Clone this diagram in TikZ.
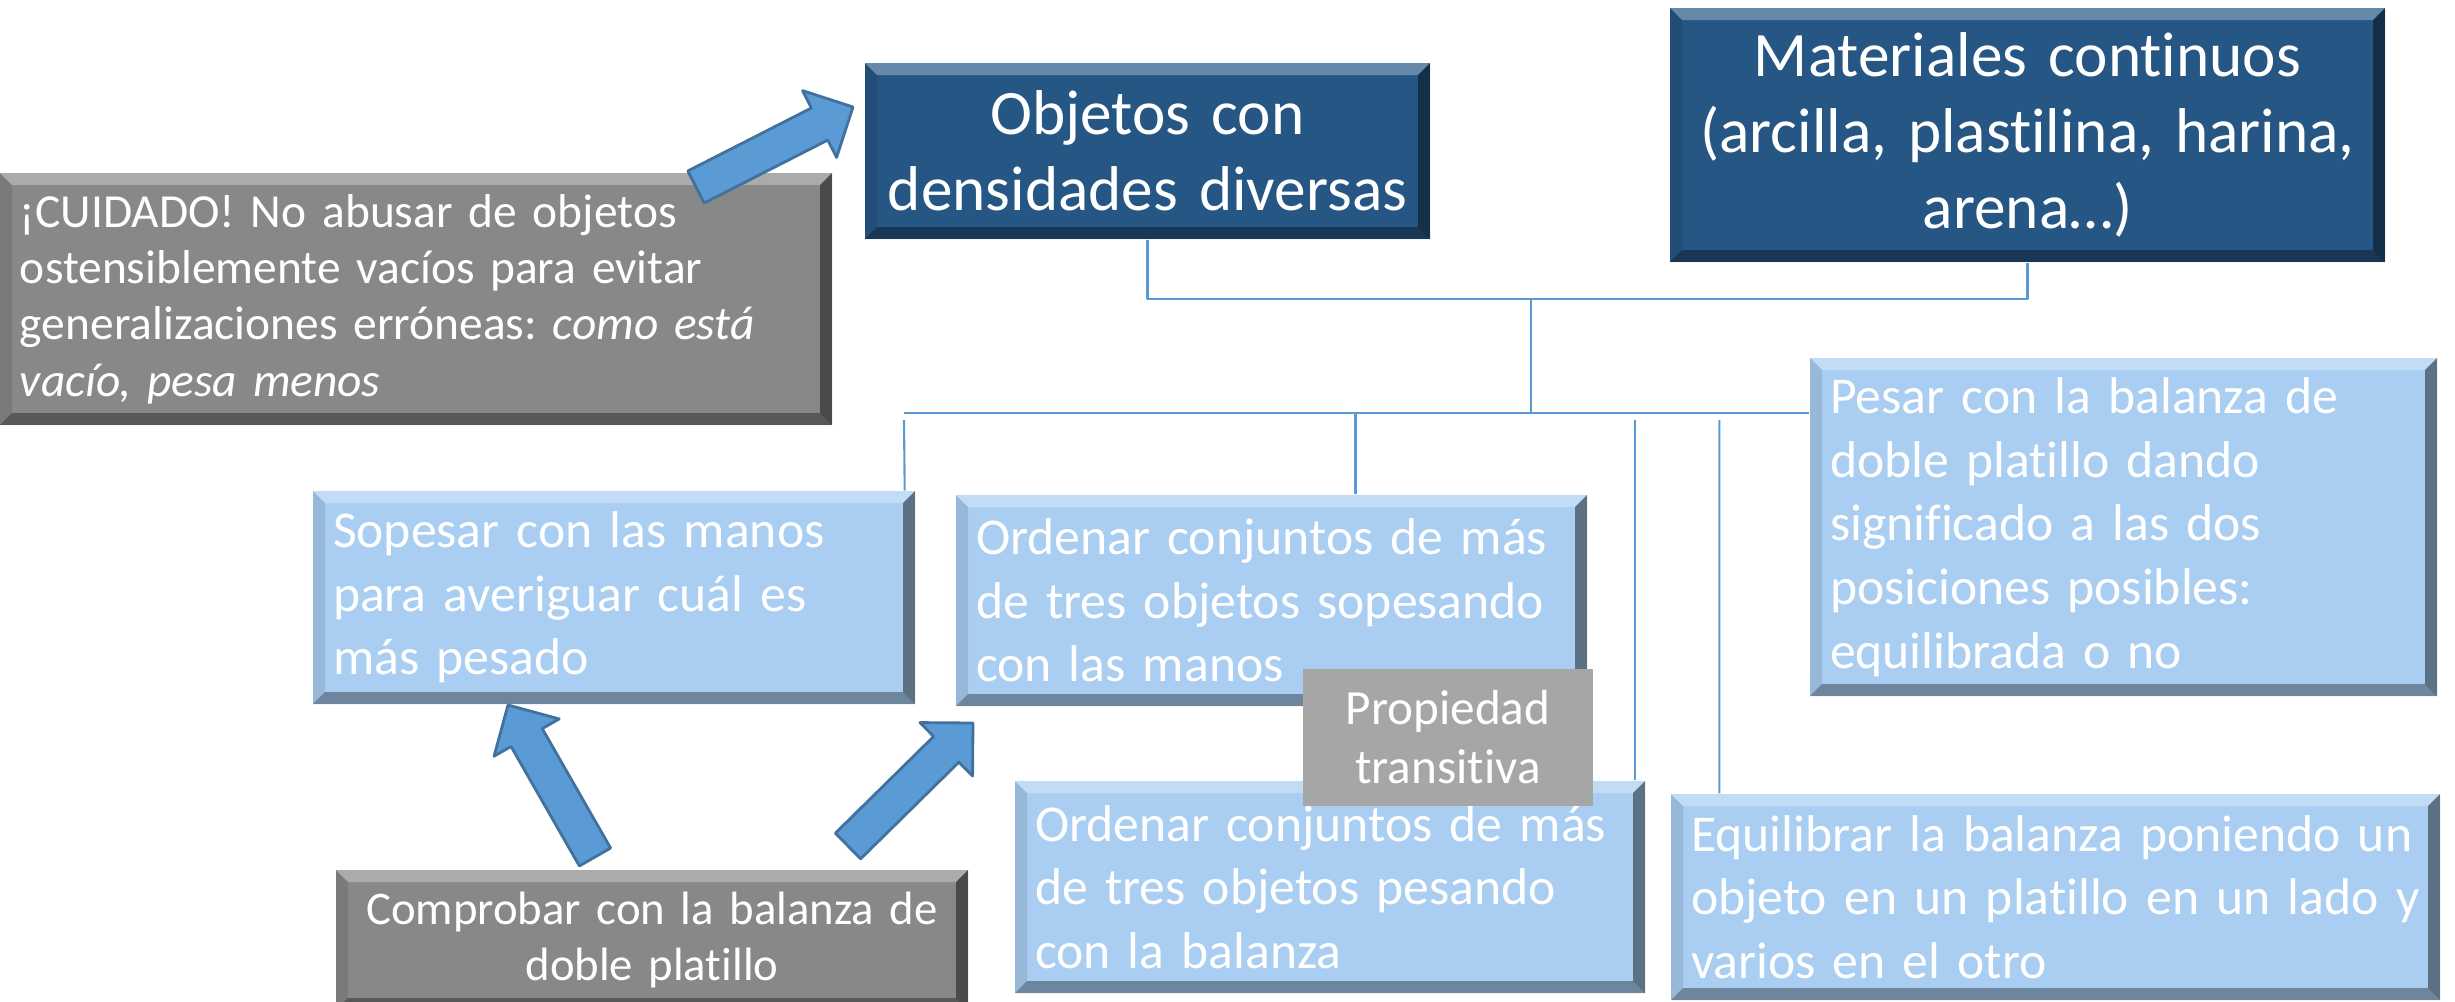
\documentclass[tikz,border=0pt]{standalone}
\usepackage{fontspec}
\setmainfont{Carlito}[Ligatures=NoCommon]
\frenchspacing
\usetikzlibrary{calc}
\definecolor{azuloscuro}{RGB}{38,86,132}
\definecolor{azulclaro}{RGB}{169,206,242}
\definecolor{gris}{RGB}{136,136,136}
\definecolor{grisclaro}{RGB}{166,166,166}
\definecolor{linea}{RGB}{91,155,213}
\definecolor{bordeflecha}{RGB}{65,113,156}
\def\bis{0.12}
% flecha gruesa de #1 a #2
\newcommand{\flechon}[2]{%
	\coordinate (cuello) at ($(#2)!0.375cm!(#1)$);
	\draw[flecha] ($(#1)!0.18cm!90:(#2)$) -- ($(cuello)!0.18cm!90:(#2)$) -- ($(cuello)!0.375cm!90:(#2)$) -- (#2)
	-- ($(cuello)!0.375cm!-90:(#2)$) -- ($(cuello)!0.18cm!-90:(#2)$) -- ($(#1)!0.18cm!-90:(#2)$) -- cycle;}
\begin{document}
\begin{tikzpicture}[line join=round,
	bisel/.style={path picture={
		\path (path picture bounding box.north west) coordinate (b1)
		(path picture bounding box.north east) coordinate (b2)
		(path picture bounding box.south east) coordinate (b3)
		(path picture bounding box.south west) coordinate (b4);
		\fill[white,opacity=.3] (b1)--(b2)--($(b2)+(-\bis,-\bis)$)--($(b1)+(\bis,-\bis)$)--cycle;
		\fill[black,opacity=.35] (b4)--(b3)--($(b3)+(-\bis,\bis)$)--($(b4)+(\bis,\bis)$)--cycle;
		\fill[black,opacity=.45] (b2)--(b3)--($(b3)+(-\bis,\bis)$)--($(b2)+(-\bis,-\bis)$)--cycle;
		\fill[black,opacity=.1] (b1)--(b4)--($(b4)+(\bis,\bis)$)--($(b1)+(\bis,-\bis)$)--cycle;}},
	caja/.style={rectangle, inner xsep=0.2cm, inner ysep=0pt, text=white, bisel},
	oscura/.style={caja, fill=azuloscuro, align=center, font=\fontsize{18}{21.6}\selectfont},
	clara/.style={caja, fill=azulclaro, align=left, font=\fontsize{14.7}{18.1}\selectfont},
	aviso/.style={caja, fill=gris, font=\fontsize{13.5}{16}\selectfont},
	nota/.style={rectangle, inner sep=0pt, fill=grisclaro, text=white, align=center, font=\fontsize{14}{16.8}\selectfont},
	enlace/.style={draw=linea, line width=0.6pt},
	flecha/.style={fill=linea, draw=bordeflecha, line width=0.8pt}]
	\useasboundingbox (0,0) rectangle (24.55,-10.01);
	
	\node[oscura, text width=5.25cm, minimum height=1.76cm] (objetos) at (11.475,-1.51) {Objetos con\\densidades diversas};
	\node[oscura, text width=6.75cm, minimum height=2.54cm] (materiales) at (20.275,-1.35) {Materiales continuos\\(arcilla, plastilina, harina,\\arena…)};
	\node[aviso, align=left, text width=7.92cm, minimum height=2.52cm] (cuidado) at (4.16,-2.99) {¡CUIDADO! No abusar de objetos\\ostensiblemente vacíos para evitar\\generalizaciones erróneas: \textit{como está}\\\textit{vacío, pesa menos}};
	\node[clara, text width=5.62cm, minimum height=2.13cm] (sopesar) at (6.14,-5.975) {Sopesar con las manos\\para averiguar cuál es\\más pesado};
	\node[clara, text width=5.91cm, minimum height=2.11cm] (ordenar1) at (12.715,-6.005) {Ordenar conjuntos de más\\de tres objetos sopesando\\con las manos};
	\node[clara, text width=5.87cm, minimum height=3.38cm] (pesar) at (21.235,-5.27) {Pesar con la balanza de\\doble platillo dando\\significado a las dos\\posiciones posibles:\\equilibrada o no};
	\node[clara, text width=5.90cm, minimum height=2.12cm] (ordenar2) at (13.30,-8.87) {Ordenar conjuntos de más\\de tres objetos pesando\\con la balanza};
	\node[clara, text width=7.29cm, minimum height=2.06cm] (equilibrar) at (20.555,-8.97) {Equilibrar la balanza poniendo un\\objeto en un platillo en un lado y\\varios en el otro};
	\node[aviso, align=center, text width=5.92cm, minimum height=1.40cm, font=\fontsize{13.3}{16.2}\selectfont] (comprobar) at (6.52,-9.40) {Comprobar con la balanza de\\doble platillo};
	\node[nota, minimum width=2.90cm, minimum height=1.37cm] (propiedad) at (14.48,-7.375) {Propiedad\\transitiva};
	
	% lineas del esquema
	\coordinate (nudo) at (15.31,-2.99);
	\coordinate (barra) at (15.31,-4.13);
	\coordinate (barraI) at (9.04,-4.13);
	\draw[enlace] (objetos.south) |- (nudo) -| (materiales.south);
	\draw[enlace] (nudo) -- (barra);
	\draw[enlace] (barraI) -- (barraI -| pesar.west);
	\draw[enlace] ([xshift=-0.11cm]sopesar.north east) -- ([yshift=-0.07cm]barraI);
	\draw[enlace] ([xshift=0.84cm]ordenar1.north) -- ([xshift=0.84cm]ordenar1.north |- barraI);
	\draw[enlace] ([xshift=-0.11cm]ordenar2.north east) -- ($(ordenar2.north east |- barraI)+(-0.11,-0.07)$);
	\draw[enlace] ([xshift=0.49cm]equilibrar.north west) -- ($(equilibrar.north west |- barraI)+(0.49,-0.07)$);
	
	% flechas gruesas
	\coordinate (f1a) at (5.95,-8.57); \coordinate (f1b) at (5.08,-7.05);
	\coordinate (f2a) at (8.48,-8.46); \coordinate (f2b) at (9.73,-7.23);
	\coordinate (f3a) at (6.96,-1.87); \coordinate (f3b) at (8.53,-1.07);
	\flechon{f1a}{f1b}
	\flechon{f2a}{f2b}
	\flechon{f3a}{f3b}
\end{tikzpicture}
\end{document}
